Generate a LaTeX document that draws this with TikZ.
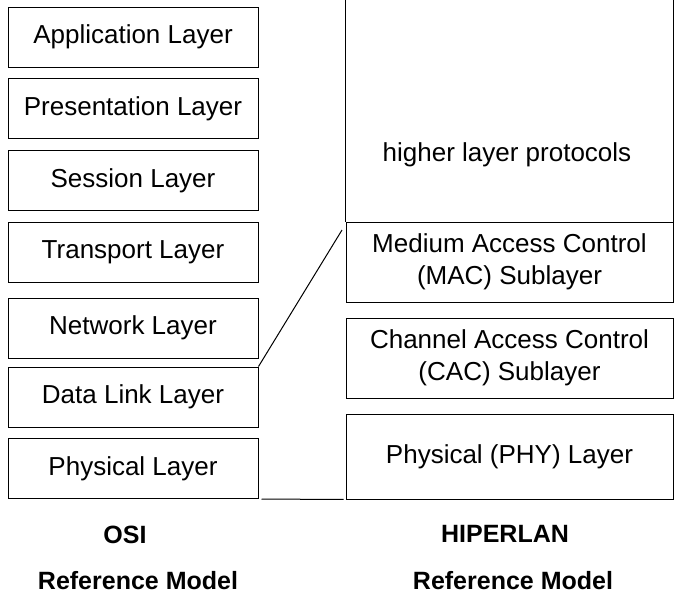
\documentclass[tikz,border=0pt]{standalone}
\usepackage{fontspec}
\setmainfont{Liberation Sans}
\tikzset{
  layer/.style={draw, line width=.5pt, minimum width=125pt, minimum height=30pt,
    inner sep=0pt, font=\fontsize{13}{16}\selectfont},
  sublayer/.style={layer, minimum width=163.5pt, minimum height=40pt, align=center},
  modelname/.style={font=\fontsize{12.5}{16}\selectfont\bfseries},
}

\begin{document}
\begin{tikzpicture}[x=.5pt, y=-.5pt, line width=.5pt]
  \useasboundingbox (0,0) rectangle (675,596);
  % osi stack
  \node[layer] (app)   at (133,37)    {Application Layer};
  \node[layer] (pres)  at (133,108.5) {Presentation Layer};
  \node[layer] (sess)  at (133,180.5) {Session Layer};
  \node[layer] (trans) at (133,252.5) {Transport Layer};
  \node[layer] (net)   at (133,328)   {Network Layer};
  \node[layer] (dlink) at (133,397)   {Data Link Layer};
  \node[layer] (phys)  at (133,468.5) {Physical Layer};
  % hiperlan stack
  \node[sublayer] (mac) at (509.5,262) {Medium Access Control\\(MAC) Sublayer};
  \node[sublayer] (cac) at (509.5,358) {Channel Access Control\\(CAC) Sublayer};
  \node[sublayer, minimum height=42.5pt] (phy) at (509.5,456.5) {Physical (PHY) Layer};
  \draw (mac.north west) -- (mac.north west |- 0,0);
  \draw (mac.north east) -- (mac.north east |- 0,0);
  \node[font=\fontsize{13}{16}\selectfont] (higher) at (507,155) {higher layer protocols};
  % mapping lines
  \coordinate (diagtop) at (342,230);
  \draw (dlink.north east) -- (diagtop);
  \draw[shorten <=1.5pt, shorten >=1pt] (phys.south east) -- (phy.south west);
  % captions
  \node[modelname] (osi)   at (125,535) {OSI};
  \node[modelname] (osirm) at (138,581) {Reference Model};
  \node[modelname] (hip)   at (505,534) {HIPERLAN};
  \node[modelname] (hiprm) at (513,581) {Reference Model};
\end{tikzpicture}
\end{document}
